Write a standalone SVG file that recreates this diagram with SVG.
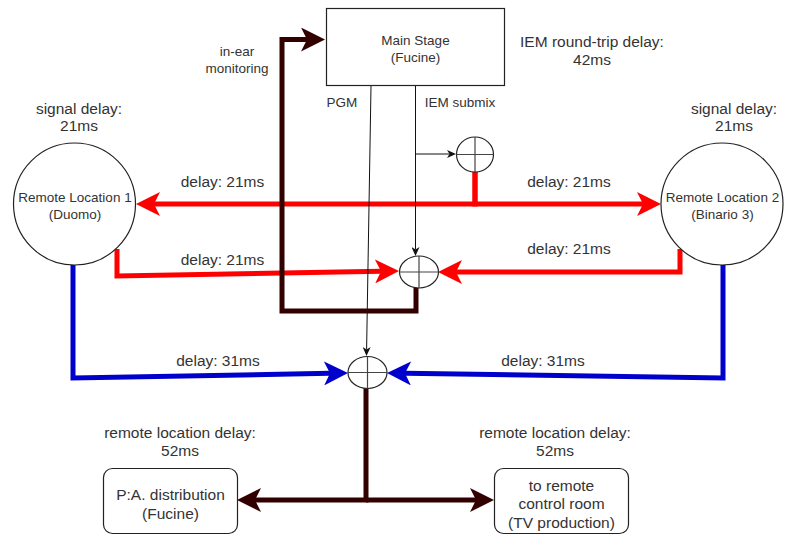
<svg xmlns="http://www.w3.org/2000/svg" width="787" height="537" viewBox="0 0 787 537">
<style>
text{font-family:"Liberation Sans",Arial,sans-serif;fill:#333;text-anchor:middle}
.lbl{font-size:15.5px}
.nl{font-size:13.5px}
.node{fill:#fff;stroke:#222;stroke-width:1.2}
.cross{stroke:#444;stroke-width:1.2;fill:none}
.red{stroke:#ff0000;stroke-width:5;fill:none}
.brown{stroke:#330000;stroke-width:5;fill:none}
.blue{stroke:#0000cc;stroke-width:5;fill:none}
.thin{stroke:#111;stroke-width:1;fill:none}
</style>
<defs>
<marker id="aRed" viewBox="0 0 24 24" markerWidth="24" markerHeight="24" refX="6" refY="12" orient="auto" markerUnits="userSpaceOnUse"><path d="M0,0 L24,12 L0,24 L6,12 Z" fill="#ff0000"/></marker>
<marker id="aBrown" viewBox="0 0 24 24" markerWidth="24" markerHeight="24" refX="6" refY="12" orient="auto" markerUnits="userSpaceOnUse"><path d="M0,0 L24,12 L0,24 L6,12 Z" fill="#330000"/></marker>
<marker id="aBlue" viewBox="0 0 24 24" markerWidth="24" markerHeight="24" refX="6" refY="12" orient="auto" markerUnits="userSpaceOnUse"><path d="M0,0 L24,12 L0,24 L6,12 Z" fill="#0000cc"/></marker>
<marker id="aBlack" viewBox="0 0 9 8" markerWidth="9" markerHeight="8" refX="2.5" refY="4" orient="auto" markerUnits="userSpaceOnUse"><path d="M0,0 L9,4 L0,8 L2.5,4 Z" fill="#111"/></marker>
</defs>

<g id="connectors">
<path class="red" d="M475,172 V204 H154" marker-end="url(#aRed)"/>
<path class="red" d="M475,172 V204 H643" marker-end="url(#aRed)"/>
<path class="red" d="M117,249 V276 L381,271.3" marker-end="url(#aRed)"/>
<path class="red" d="M680,249 V272 H456" marker-end="url(#aRed)"/>
<path class="brown" d="M416,288 V311 H282 V39.5 H307" marker-end="url(#aBrown)"/>
<path class="brown" d="M366,388 V500 H255" marker-end="url(#aBrown)"/>
<path class="brown" d="M366,500 H476" marker-end="url(#aBrown)"/>
<path class="blue" d="M73,265 V378 L330,373.3" marker-end="url(#aBlue)"/>
<path class="blue" d="M723,265 V378 L405,373.3" marker-end="url(#aBlue)"/>
<path class="thin" d="M415.5,86 V249.5" marker-end="url(#aBlack)"/>
<path class="thin" d="M415.5,154 H449.5" marker-end="url(#aBlack)"/>
<path class="thin" d="M371,86 L366.6,349.5" marker-end="url(#aBlack)"/>
</g>

<g id="main-stage">
<rect class="node" x="326.5" y="8.5" width="178" height="77"/>
<text class="nl" x="415.5" y="44.7">Main Stage</text>
<text class="nl" x="415.5" y="61.7">(Fucine)</text>
</g>

<g id="remote-location-1">
<circle class="node" cx="74.5" cy="204" r="61"/>
<text class="nl" x="75" y="201.7">Remote Location 1</text>
<text class="nl" x="75" y="218.7">(Duomo)</text>
</g>

<g id="remote-location-2">
<circle class="node" cx="722" cy="204" r="61"/>
<text class="nl" x="722.5" y="201.7">Remote Location 2</text>
<text class="nl" x="722.5" y="218.7">(Binario 3)</text>
</g>

<g id="sum-iem">
<ellipse class="node" cx="475" cy="154.5" rx="18.5" ry="17.5"/>
<path class="cross" d="M456.5,154.5 H493.5 M475,137 V172"/>
</g>

<g id="sum-monitor">
<ellipse class="node" cx="419" cy="272" rx="19.5" ry="16"/>
<path class="cross" d="M399.5,272 H438.5 M419,256 V288"/>
</g>

<g id="sum-pgm">
<ellipse class="node" cx="367.5" cy="372.5" rx="19.5" ry="16"/>
<path class="cross" d="M348,372.5 H387 M367.5,356.5 V388.5"/>
</g>

<g id="pa-distribution">
<rect class="node" x="103.5" y="468.5" width="134" height="65" rx="9"/>
<text class="lbl" x="170.5" y="499.5">P:A. distribution</text>
<text class="lbl" x="170.5" y="518.5">(Fucine)</text>
</g>

<g id="remote-control-room">
<rect class="node" x="494.5" y="468.5" width="134" height="65" rx="9"/>
<text class="lbl" x="561.5" y="490.5">to remote</text>
<text class="lbl" x="561.5" y="509">control room</text>
<text class="lbl" x="561.5" y="528">(TV production)</text>
</g>

<g id="labels">
<text class="lbl" x="79" y="113.5">signal delay:</text>
<text class="lbl" x="79" y="130.5">21ms</text>
<text class="lbl" x="734" y="113.5">signal delay:</text>
<text class="lbl" x="734" y="130.5">21ms</text>
<text class="lbl" x="592" y="47.4">IEM round-trip delay:</text>
<text class="lbl" x="592" y="65.4">42ms</text>
<text class="nl" x="237" y="55.7">in-ear</text>
<text class="nl" x="237" y="72.7">monitoring</text>
<text class="nl" x="342" y="107">PGM</text>
<text class="nl" x="460" y="107">IEM submix</text>
<text class="lbl" x="222.5" y="187.4">delay: 21ms</text>
<text class="lbl" x="569" y="187.4">delay: 21ms</text>
<text class="lbl" x="222.5" y="265.4">delay: 21ms</text>
<text class="lbl" x="569" y="254.4">delay: 21ms</text>
<text class="lbl" x="218" y="366.4">delay: 31ms</text>
<text class="lbl" x="543" y="366.4">delay: 31ms</text>
<text class="lbl" x="180" y="438.4">remote location delay:</text>
<text class="lbl" x="180" y="456.4">52ms</text>
<text class="lbl" x="555" y="438.4">remote location delay:</text>
<text class="lbl" x="555" y="456.4">52ms</text>
</g>
</svg>
